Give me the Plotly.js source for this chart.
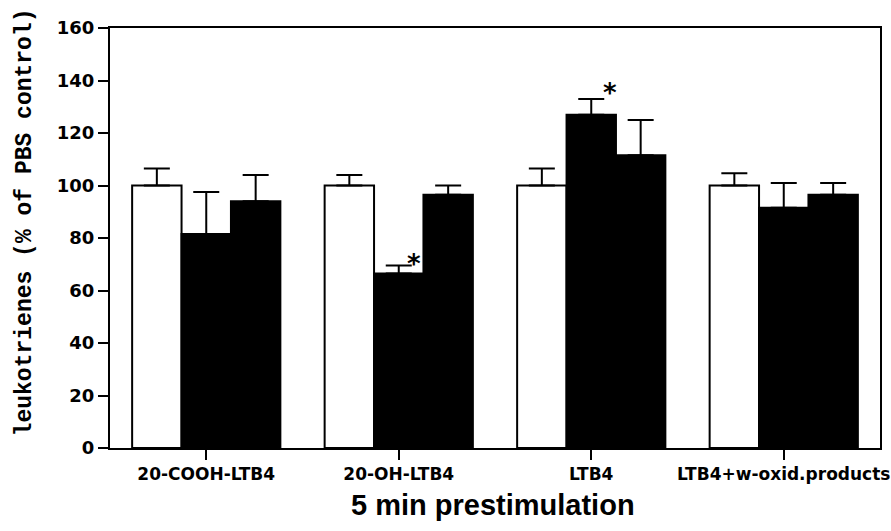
<!DOCTYPE html>
<html>
<head>
<meta charset="utf-8">
<script src="https://cdn.plot.ly/plotly-3.0.1.min.js"></script>
<style>html,body{margin:0;padding:0;background:#fff;}#chart{width:891px;height:531px;}</style>
</head>
<body>
<div id="chart"></div>
<script>
const categories = ["20-COOH-LTB4", "20-OH-LTB4", "LTB4", "LTB4+w-oxid.products"];
const controlValues = [100, 100, 100, 100];
const controlErr = [6.5, 4, 6.5, 4.7];
const series2Values = [81.5, 66.5, 127, 91.5];
const series2Err = [16, 3, 6, 9.5];
const series3Values = [94, 96.5, 111.5, 96.5];
const series3Err = [10, 3.5, 13.5, 4.5];
const yTickVals = [0, 20, 40, 60, 80, 100, 120, 140, 160];
const sigX = [1.08, 2.095];
const sigY = [72.5, 137.5];

function errBar(arr) {
  return {type: 'data', symmetric: false, array: arr, arrayminus: arr.map(() => 0),
          color: '#000', thickness: 2, width: 13, visible: true};
}

const traces = [
  {type: 'bar', x: categories, y: controlValues, name: 'PBS',
   marker: {color: '#fff', line: {color: '#000', width: 2}}, error_y: errBar(controlErr)},
  {type: 'bar', x: categories, y: series2Values, name: 'B',
   marker: {color: '#000', line: {color: '#000', width: 2}}, error_y: errBar(series2Err)},
  {type: 'bar', x: categories, y: series3Values, name: 'C',
   marker: {color: '#000', line: {color: '#000', width: 2}}, error_y: errBar(series3Err)}
];

const annotations = sigX.map((x, i) => ({
  x: x, y: sigY[i], xref: 'x', yref: 'y', text: '<b>*</b>', showarrow: false,
  font: {family: 'DejaVu Sans', size: 26, color: '#000', weight: 'bold'}, xanchor: 'center', yanchor: 'middle', yshift: -6
}));
annotations.push({
  xref: 'paper', yref: 'paper', x: -0.110, y: 0.538, text: '<b>leukotrienes (% of PBS control)</b>',
  textangle: -90, showarrow: false, xanchor: 'center', yanchor: 'middle',
  font: {family: 'Liberation Mono', size: 23, color: '#000', weight: 'bold'}
});
annotations.push({
  xref: 'paper', yref: 'paper', x: 0.497, y: -0.135, text: '<b>5 min prestimulation</b>',
  showarrow: false, xanchor: 'center', yanchor: 'middle',
  font: {family: 'Liberation Sans', size: 29, color: '#000', weight: 'bold'}
});

const layout = {
  width: 891, height: 531,
  margin: {l: 110, r: 11, t: 28, b: 83, pad: 0},
  paper_bgcolor: '#fff', plot_bgcolor: '#fff',
  showlegend: false,
  barmode: 'group', bargap: 0.23, bargroupgap: 0,
  xaxis: {
    type: 'category', range: [-0.5, 3.5], automargin: false,
    showline: true, linecolor: '#000', linewidth: 2, mirror: true,
    ticks: 'outside', ticklen: 10, tickwidth: 2, tickcolor: '#000', showgrid: false, zeroline: false,
    tickfont: {family: 'DejaVu Sans', size: 17, color: '#000', weight: 'bold'}
  },
  yaxis: {
    range: [0, 160], tickvals: yTickVals, ticktext: yTickVals.map(String), automargin: false,
    showline: true, linecolor: '#000', linewidth: 2, mirror: true,
    ticks: 'outside', ticklen: 10, tickwidth: 2, tickcolor: '#000', showgrid: false, zeroline: false,
    tickfont: {family: 'DejaVu Sans', size: 18, color: '#000', weight: 'bold'}
  },
  annotations: annotations
};

Plotly.newPlot('chart', traces, layout, {displayModeBar: false, staticPlot: true});
</script>
</body>
</html>
